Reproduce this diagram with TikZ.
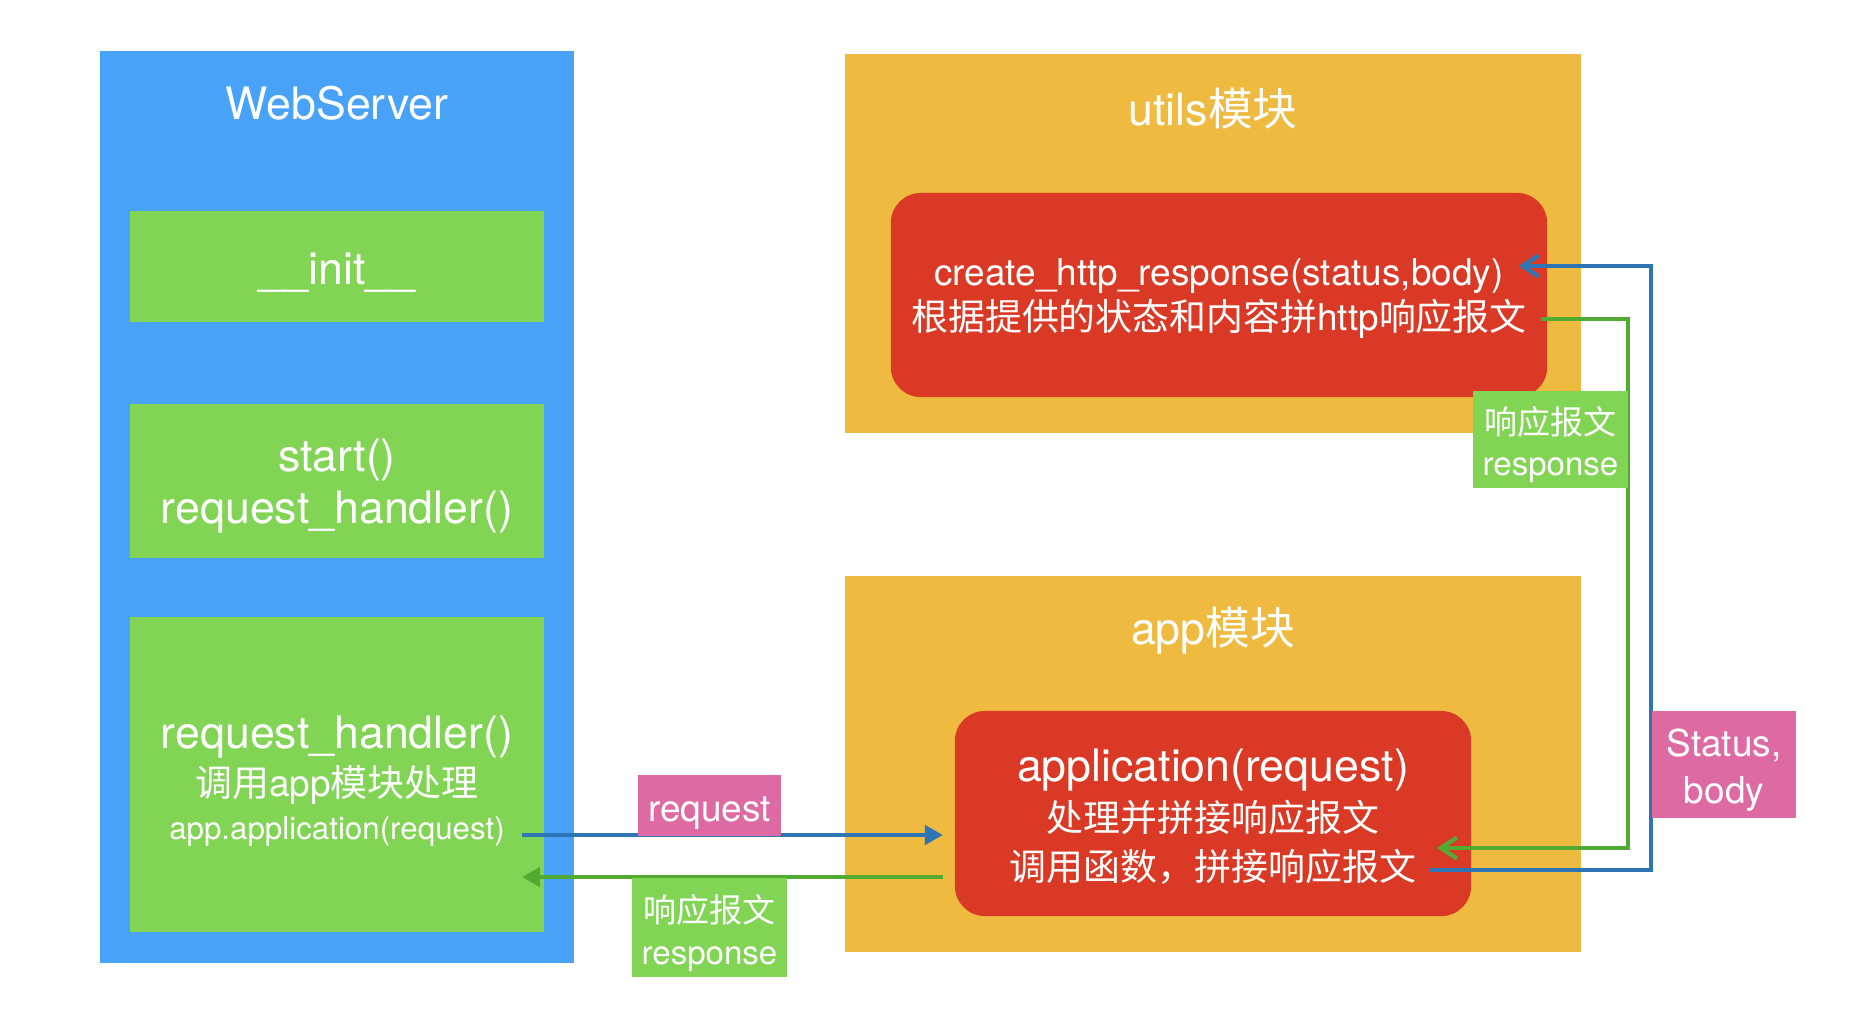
\documentclass[tikz,border=0pt]{standalone}
\usepackage{fontspec}
\setmainfont{TeX Gyre Heros}
\newfontfamily\cjk{Noto Sans CJK SC}
\usetikzlibrary{arrows.meta}

\definecolor{srvblue}{RGB}{72,162,248}
\definecolor{fngreen}{RGB}{130,212,85}
\definecolor{modyellow}{RGB}{238,186,64}
\definecolor{fnred}{RGB}{218,58,37}
\definecolor{tagpink}{RGB}{222,106,164}
\definecolor{lineblue}{RGB}{46,117,182}
\definecolor{linegreen}{RGB}{82,170,50}

\newcommand{\fbig}{\fontsize{12.7pt}{15pt}\selectfont}
\newcommand{\fmid}{\fontsize{10.5pt}{13pt}\selectfont}
\newcommand{\fsml}{\fontsize{8.9pt}{11pt}\selectfont}

\begin{document}
\begin{tikzpicture}[x=0.01cm, y=-0.01cm,
    every node/.style={text=white, inner sep=0pt, outer sep=0pt},
    modbox/.style={fill=modyellow, minimum width=7.36cm},
    fnbox/.style={fill=fngreen, minimum width=4.14cm},
    callbox/.style={fill=fnred, rounded corners=0.3cm},
    tag/.style={fill=#1},
    reqarrow/.style={draw=lineblue, line width=1.2pt, -{Triangle[length=5.1pt,width=5.4pt]}},
    resarrow/.style={draw=linegreen, line width=1.2pt, -{Triangle[length=5.1pt,width=5.4pt]}},
    backarrow/.style={draw=#1, line width=1.2pt, -{Straight Barb[length=4.6pt,width=6pt]}}]

        \useasboundingbox (0,0) rectangle (1854,1020);

        % WebServer
        \node[fill=srvblue, minimum width=4.74cm, minimum height=9.12cm] (server) at (337,507) {};
        \node[font=\fbig] (srvtitle) at (337,103) {WebServer};

        \node[fnbox, minimum height=1.11cm] (init) at (337,266.5) {};
        \node[font=\fbig] (inittxt) at (337,272.5) {\_\_init\_\_};
        \node[fnbox, minimum height=1.53cm] (start) at (337,481) {};
        \node[font=\fbig, align=center] (starttxt) at (337,486) {start()\\request\_handler()};

        \node[fnbox, minimum height=3.15cm] (handler) at (337,774.5) {};
        \node[font=\fbig] (hl1) at (337,737) {request\_handler()};
        \node[font=\fmid] (hl2) at (337,785) {{\cjk 调用}app{\cjk 模块处理}};
        \node[font=\fsml] (hl3) at (337,831) {app.application(request)};

        % utils模块
        \node[modbox, minimum height=3.79cm] (utils) at (1213,243.5) {};
        \node[font=\fbig] (uttitle) at (1213,109) {utils{\cjk 模块}};
        \node[callbox, minimum width=6.56cm, minimum height=2.04cm] (utilsfn) at (1219,295) {};
        \node[font=\fmid] (ut1) at (1219,276) {create\_http\_response(status,body)};
        \node[font=\fmid] (ut2) at (1219,319) {{\cjk 根据提供的状态和内容拼}http{\cjk 响应报文}};

        % app模块
        \node[modbox, minimum height=3.76cm] (app) at (1213,764) {};
        \node[font=\fbig] (aptitle) at (1213,631) {app{\cjk 模块}};
        \node[callbox, minimum width=5.16cm, minimum height=2.05cm] (appfn) at (1213,813.5) {};
        \node[font=\fbig] (ap1) at (1213,770) {application(request)};
        \node[font=\fmid] (ap2) at (1213,817) {\cjk 处理并拼接响应报文};
        \node[font=\fmid] (ap3) at (1213,867) {\cjk 调用函数，拼接响应报文};

        % request / response
        \coordinate (reqL) at (522,835);
        \coordinate (resL) at (522,877);
        \draw[reqarrow, shorten >=3.4pt] (reqL) -- (reqL -| appfn.west);
        \draw[resarrow, shorten <=3.4pt] (resL -| appfn.west) -- (resL);

        % Status, body / 响应报文
        \coordinate (busB) at (1651,0);
        \coordinate (busG) at (1628,0);
        \coordinate (gin) at (1437,848);
        \draw[backarrow=lineblue, shorten <=3.7pt, shorten >=4.3pt]
            ([yshift=-0.85pt]ap3.east) -- ([yshift=-0.85pt]ap3.east -| busB)
            |- ([yshift=2.85pt]ut1.east);
        \draw[backarrow=linegreen, shorten <=4pt] (ut2.east) -- (ut2.east -| busG) |- (gin);

        \node[tag=tagpink, minimum width=1.43cm, minimum height=0.61cm] (reqtag) at (709.5,805.5) {};
        \node[font=\fmid] (reqtxt) at (709.5,813) {request};
        \node[tag=fngreen, minimum width=1.55cm, minimum height=0.99cm] (restag) at (709.5,927.5) {};
        \node[font=\fontsize{9.4pt}{11.7pt}\selectfont, align=center] (restxt) at (709.5,933)
            {{\cjk 响应报文}\\response};
        \node[tag=fngreen, minimum width=1.55cm, minimum height=0.97cm] (utag) at (1550.5,439.5) {};
        \node[font=\fontsize{9.4pt}{11.7pt}\selectfont, align=center] (utxt) at (1550.5,444.5)
            {{\cjk 响应报文}\\response};
        \node[tag=tagpink, minimum width=1.44cm, minimum height=1.07cm] (sbtag) at (1724,764.5) {};
        \node[font=\fontsize{10.5pt}{13.4pt}\selectfont, align=center] (sbtxt) at (1724,770)
            {Status,\\body};

    \end{tikzpicture}
\end{document}
